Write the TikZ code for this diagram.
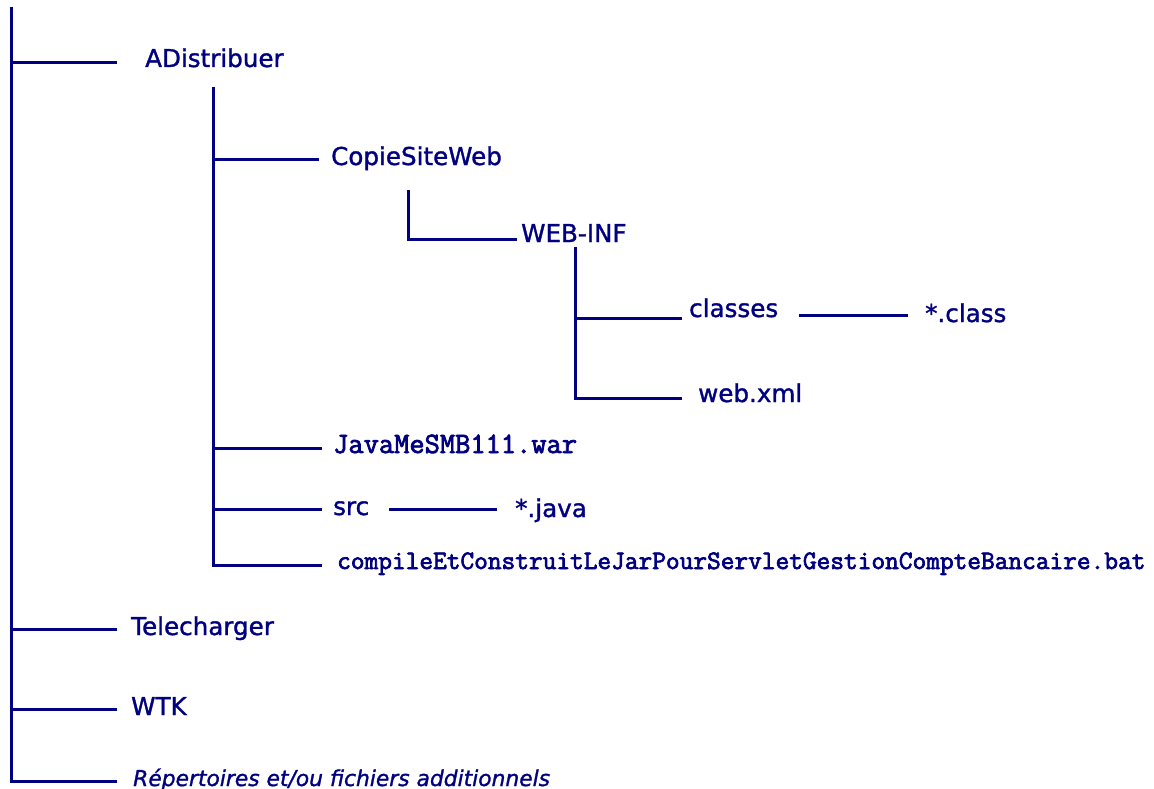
\documentclass[tikz,border=0pt]{standalone}
\usepackage{fontspec}
\setmainfont[FakeBold=1.3]{DejaVu Sans}
\newfontfamily\codefont[FakeBold=2.6]{Latin Modern Mono}
\usetikzlibrary{positioning}
\definecolor{arbrebleu}{RGB}{0,0,128}
\tikzset{
    % folder names
    dossier/.style={
           anchor=base west,
           inner sep=0pt,
           text=arbrebleu,
           font=\fontsize{24.6}{28}\selectfont},
    % file names
    fichier/.style={
           dossier,
           font=\fontsize{29.6}{32}\selectfont\codefont},
    % lines of the tree
    branche/.style={
           draw=arbrebleu,
           line width=3pt}
}
\begin{document}
\begin{tikzpicture}[x=1pt,y=-1pt]
  \useasboundingbox (0,0) rectangle (1154,789);
  % names
  \node[dossier] (adist) at (145,67) {ADistribuer};
  \node[dossier] (copie) at (331,165) {CopieSiteWeb};
  \node[dossier] (webinf) at (521,242) {WEB-INF};
  \node[dossier] (classes) at (689,317) {classes};
  \node[dossier] (klass) at (925,322) {*.class};
  \node[dossier] (webxml) at (698,402) {web.xml};
  \node[fichier] (war) at (333,453) {JavaMeSMB111.war};
  \node[dossier] (src) at (333,515) {src};
  \node[dossier] (java) at (515,517) {*.java};
  \node[fichier,font=\fontsize{26.6}{30}\selectfont\codefont] (bat) at (337,569)
    {compileEtConstruitLeJarPourServletGestionCompteBancaire.bat};
  \node[dossier] (tele) at (131,635) {Telecharger};
  \node[dossier] (wtk) at (131,715) {WTK};
  \node[dossier,font=\fontsize{21.8}{26}\selectfont\itshape] (autres) at (133,786)
    {Répertoires et/ou fichiers additionnels};
  % tops of the trunks
  \coordinate (racine) at (11,7);
  \coordinate (adtronc) at (213,87);
  \coordinate (copietronc) at (408,190);
  \coordinate (webtronc) at (575,247);
  % root
  \draw[branche,shorten >=16pt] (racine) |- ([yshift=5pt]autres.base west);
  \draw[branche,shorten >=28pt] (racine) |- ([yshift=4pt]adist.base west);
  \draw[branche,shorten >=14pt] (racine) |- ([yshift=6pt]tele.base west);
  \draw[branche,shorten >=14pt] (racine) |- ([yshift=6pt]wtk.base west);
  % ADistribuer
  \draw[branche,shorten >=15pt] (adtronc) |- ([yshift=4pt]bat.base west);
  \draw[branche,shorten >=12pt] (adtronc) |- ([yshift=5pt]copie.base west);
  \draw[branche,shorten >=11pt] (adtronc) |- ([yshift=5pt]war.base west);
  \draw[branche,shorten >=11pt] (adtronc) |- ([yshift=6pt]src.base west);
  \draw[branche,shorten <=20pt,shorten >=18pt] ([yshift=6pt]src.base east) -- ([yshift=8pt]java.base west);
  % CopieSiteWeb
  \draw[branche,shorten >=4pt] (copietronc) |- ([yshift=3pt]webinf.base west);
  % WEB-INF
  \draw[branche,shorten >=16pt] (webtronc) |- ([yshift=4pt]webxml.base west);
  \draw[branche,shorten >=7pt] (webtronc) |- ([yshift=-1pt]classes.base west);
  \draw[branche,shorten <=21pt,shorten >=17pt] ([yshift=2pt]classes.base east) -- ([yshift=7pt]klass.base west);
\end{tikzpicture}
\end{document}
